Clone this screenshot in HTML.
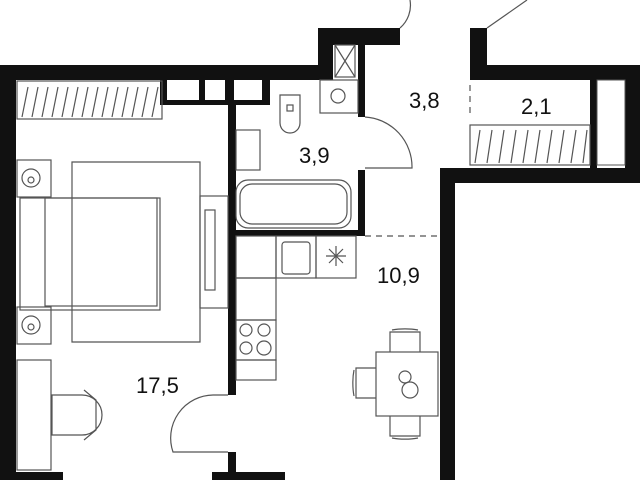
<!DOCTYPE html>
<html><head><style>body{margin:0;background:#fff}svg{display:block}text{font-family:"Liberation Sans",sans-serif;font-size:22px;fill:#111}</style></head><body>
<svg width="640" height="480" viewBox="0 0 640 480">
<g fill="#111">
<rect x="0" y="65" width="333" height="15"/>
<rect x="0" y="65" width="16" height="415"/>
<rect x="318" y="28" width="15" height="52"/>
<rect x="318" y="28" width="82" height="17"/>
<rect x="358" y="45" width="7" height="72"/>
<rect x="160" y="80" width="110" height="25"/>
<rect x="228" y="80" width="8" height="315"/>
<rect x="228" y="452" width="8" height="28"/>
<rect x="212" y="472" width="73" height="8"/>
<rect x="228" y="230" width="137" height="6"/>
<rect x="358" y="170" width="7" height="66"/>
<rect x="470" y="28" width="17" height="52"/>
<rect x="470" y="65" width="170" height="15"/>
<rect x="625" y="65" width="15" height="118"/>
<rect x="440" y="168" width="200" height="15"/>
<rect x="440" y="168" width="15" height="312"/>
<rect x="590" y="80" width="7" height="88"/>
<rect x="0" y="472" width="63" height="8"/>
</g>
<g fill="#fff"><rect x="167" y="80" width="32" height="20"/><rect x="205" y="80" width="20" height="20"/><rect x="234" y="80" width="28" height="20"/><rect x="597" y="80" width="28" height="85" stroke="#555"/></g>
<g fill="none" stroke="#555" stroke-width="1.2">
<rect x="17" y="81" width="145" height="38"/>
<path d="M22 117l6-30M32 117l6-30M42 117l6-30M52 117l6-30M62 117l6-30M72 117l6-30M82 117l6-30M92 117l6-30M102 117l6-30M112 117l6-30M122 117l6-30M132 117l6-30M142 117l6-30M152 117l6-30"/>
<rect x="470" y="125" width="120" height="40"/>
<path d="M475 163l5-33M487 163l5-33M499 163l5-33M511 163l5-33M523 163l5-33M535 163l5-33M547 163l5-33M559 163l5-33M571 163l5-33M583 163l4-33"/>
<path d="M365 117a50 50 0 0 1 47 51h-47"/>
<path d="M400 28a30 30 0 0 0 10-28"/>
<path d="M487 28l40-28"/>
<path d="M470 85v30M365 236h75" stroke-dasharray="6 5"/>
<rect x="335" y="45" width="20" height="32"/><path d="M335 45l20 32M355 45l-20 32"/>
<rect x="320" y="80" width="38" height="33"/><circle cx="338" cy="96" r="7"/>
<path d="M280 95h20v28a10 10 0 0 1-20 0z"/><rect x="287" y="105" width="6" height="6"/>
<rect x="236" y="130" width="24" height="40"/>
<rect x="236" y="180" width="115" height="48" rx="12"/><rect x="240" y="184" width="107" height="40" rx="12"/>
<rect x="17" y="160" width="34" height="37"/><circle cx="31" cy="178" r="9"/><circle cx="31" cy="180" r="3"/>
<rect x="17" y="307" width="34" height="37"/><circle cx="31" cy="325" r="9"/><circle cx="31" cy="327" r="3"/>
<rect x="20" y="198" width="140" height="112"/><rect x="45" y="198" width="112" height="108"/>
<path d="M72 162h128v180H72z"/>
<rect x="200" y="196" width="28" height="112"/><rect x="205" y="210" width="10" height="80"/>
<rect x="17" y="360" width="34" height="110"/>
<path d="M52 395h30a10 10 0 0 1 0 40H52zM84 390l12 10v30l-12 10"/>
<rect x="236" y="236" width="40" height="42"/><rect x="276" y="236" width="40" height="42"/><rect x="282" y="242" width="28" height="32" rx="3"/>
<rect x="316" y="236" width="40" height="42"/><path d="M326 256h20M336 246v20M329 249l14 14M343 249l-14 14"/>
<rect x="236" y="278" width="40" height="42"/><rect x="236" y="320" width="40" height="40"/>
<circle cx="246" cy="330" r="6"/><circle cx="264" cy="330" r="6"/><circle cx="246" cy="348" r="6"/><circle cx="264" cy="348" r="7"/>
<rect x="236" y="360" width="40" height="20"/>
<rect x="376" y="352" width="62" height="64"/><circle cx="405" cy="377" r="6"/><circle cx="410" cy="390" r="8"/>
<path d="M390 352v-20h30v20M392 330a22 6 0 0 1 26 0M390 416v20h30v-20M392 438a22 6 0 0 0 26 0M376 368h-20v30h20M354 370a6 22 0 0 0 0 26"/>
<path d="M228 395h-15a43 43 0 0 0-40 57h55"/>
</g>
<text x="409" y="108">3,8</text>
<text x="521" y="114">2,1</text>
<text x="299" y="163">3,9</text>
<text x="377" y="283">10,9</text>
<text x="136" y="393">17,5</text>
</svg>
</body></html>
